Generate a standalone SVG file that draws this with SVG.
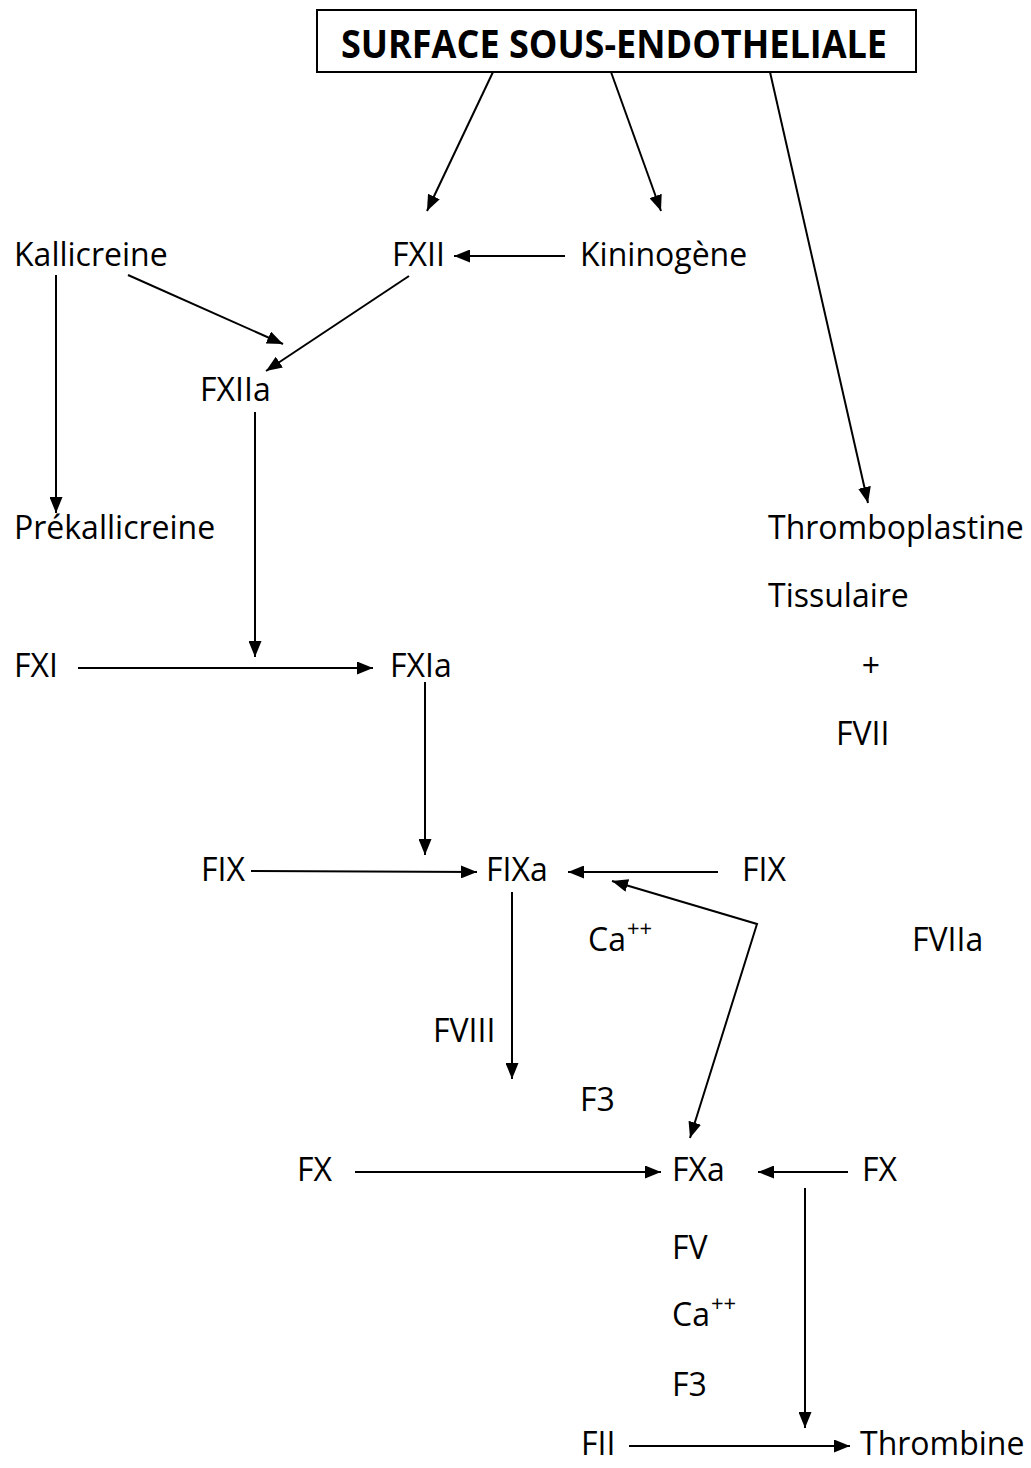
<svg xmlns="http://www.w3.org/2000/svg" width="1031" height="1468" viewBox="0 0 1031 1468">
  <style>
    .lbl { font-family: "Open Sans", "Noto Sans", "Liberation Sans", sans-serif; font-size: 32px; fill: #000; }
    .sup { font-size: 22px; }
    .title { font-family: "Open Sans", "Noto Sans", "Liberation Sans", sans-serif; font-size: 40px; font-weight: bold; fill: #000; }
    .box { fill: #fff; stroke: #000; stroke-width: 2; }
    .edge { fill: none; stroke: #000; stroke-width: 2; }
  </style>
  <defs>
    <marker id="arrow" viewBox="0 0 16 13" markerWidth="16" markerHeight="13" refX="16" refY="6.5" orient="auto-start-reverse" markerUnits="userSpaceOnUse">
      <path d="M0,0 L16,6.5 L0,13 z" fill="#000"/>
    </marker>
  </defs>
  <rect width="1031" height="1468" fill="#fff"/>

  <!-- connectors -->
  <g id="connectors">
    <line class="edge" x1="493" y1="72" x2="427" y2="211" marker-end="url(#arrow)"/>
    <line class="edge" x1="611" y1="72" x2="661" y2="211" marker-end="url(#arrow)"/>
    <line class="edge" x1="770" y1="72" x2="868" y2="503" marker-end="url(#arrow)"/>
    <line class="edge" x1="565" y1="256" x2="454" y2="256" marker-end="url(#arrow)"/>
    <line class="edge" x1="56" y1="275" x2="56" y2="513" marker-end="url(#arrow)"/>
    <line class="edge" x1="128" y1="275" x2="283" y2="344" marker-end="url(#arrow)"/>
    <line class="edge" x1="409" y1="276" x2="266" y2="371" marker-end="url(#arrow)"/>
    <line class="edge" x1="255" y1="412" x2="255" y2="657" marker-end="url(#arrow)"/>
    <line class="edge" x1="78" y1="668" x2="373" y2="668" marker-end="url(#arrow)"/>
    <line class="edge" x1="425" y1="682" x2="425" y2="855" marker-end="url(#arrow)"/>
    <line class="edge" x1="251" y1="871" x2="477" y2="872" marker-end="url(#arrow)"/>
    <line class="edge" x1="718" y1="872" x2="568" y2="872" marker-end="url(#arrow)"/>
    <path class="edge" d="M612,881 L757,924 L690,1138" marker-start="url(#arrow)" marker-end="url(#arrow)"/>
    <line class="edge" x1="512" y1="892" x2="512" y2="1079" marker-end="url(#arrow)"/>
    <line class="edge" x1="355" y1="1172" x2="661" y2="1172" marker-end="url(#arrow)"/>
    <line class="edge" x1="848" y1="1172" x2="758" y2="1172" marker-end="url(#arrow)"/>
    <line class="edge" x1="805" y1="1188" x2="805" y2="1428" marker-end="url(#arrow)"/>
    <line class="edge" x1="629" y1="1446" x2="850" y2="1446" marker-end="url(#arrow)"/>
  </g>

  <!-- nodes -->
  <g id="surface">
    <rect class="box" x="317" y="10" width="599" height="62"/>
    <text class="title" x="341" y="58" textLength="546" lengthAdjust="spacingAndGlyphs">SURFACE SOUS-ENDOTHELIALE</text>
  </g>
  <g id="kallicreine"><text class="lbl" x="14" y="266">Kallicreine</text></g>
  <g id="fxii"><text class="lbl" x="392" y="266">FXII</text></g>
  <g id="kininogene"><text class="lbl" x="580" y="266">Kininogène</text></g>
  <g id="fxiia"><text class="lbl" x="200" y="401">FXIIa</text></g>
  <g id="prekallicreine"><text class="lbl" x="14" y="539">Prékallicreine</text></g>
  <g id="thromboplastine">
    <text class="lbl" x="768" y="539">Thromboplastine</text>
    <text class="lbl" x="768" y="607">Tissulaire</text>
    <text class="lbl" x="871" y="677" text-anchor="middle">+</text>
    <text class="lbl" x="836" y="745">FVII</text>
  </g>
  <g id="fxi"><text class="lbl" x="14" y="677">FXI</text></g>
  <g id="fxia"><text class="lbl" x="390" y="677">FXIa</text></g>
  <g id="fix-left"><text class="lbl" x="201" y="881">FIX</text></g>
  <g id="fixa"><text class="lbl" x="486" y="881">FIXa</text></g>
  <g id="fix-right"><text class="lbl" x="742" y="881">FIX</text></g>
  <g id="ca-1"><text class="lbl" x="588" y="951">Ca<tspan class="sup" dx="1" dy="-15">++</tspan></text></g>
  <g id="fviia"><text class="lbl" x="912" y="951">FVIIa</text></g>
  <g id="fviii"><text class="lbl" x="433" y="1042">FVIII</text></g>
  <g id="f3-1"><text class="lbl" x="580" y="1111">F3</text></g>
  <g id="fx-left"><text class="lbl" x="297" y="1181">FX</text></g>
  <g id="fxa"><text class="lbl" x="672" y="1181">FXa</text></g>
  <g id="fx-right"><text class="lbl" x="862" y="1181">FX</text></g>
  <g id="fv"><text class="lbl" x="672" y="1259">FV</text></g>
  <g id="ca-2"><text class="lbl" x="672" y="1326">Ca<tspan class="sup" dx="1" dy="-15">++</tspan></text></g>
  <g id="f3-2"><text class="lbl" x="672" y="1396">F3</text></g>
  <g id="fii"><text class="lbl" x="581" y="1455">FII</text></g>
  <g id="thrombine"><text class="lbl" x="860" y="1455">Thrombine</text></g>
</svg>
